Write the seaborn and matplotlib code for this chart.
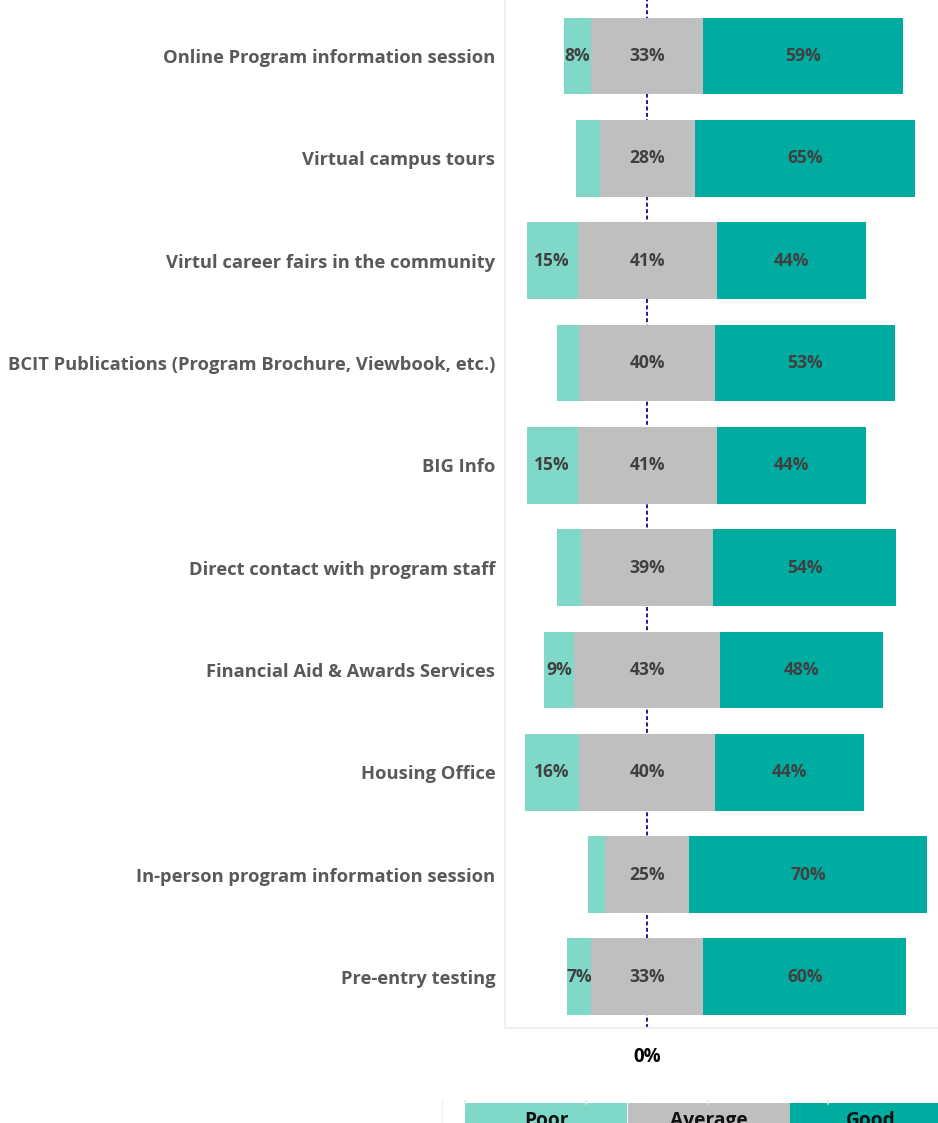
import matplotlib
matplotlib.use("Agg")
import matplotlib.pyplot as plt
from matplotlib.patches import Rectangle
import seaborn as sns

# Survey ratings per recruitment resource (percent of respondents)
resources = [
    "Online Program information session",
    "Virtual campus tours",
    "Virtul career fairs in the community",
    "BCIT Publications (Program Brochure, Viewbook, etc.)",
    "BIG Info",
    "Direct contact with program staff",
    "Financial Aid & Awards Services",
    "Housing Office",
    "In-person program information session",
    "Pre-entry testing",
]
poor = [8, 7, 15, 6.5, 15, 7, 9, 16, 5, 7]
average = [33, 28, 41, 40, 41, 39, 43, 40, 25, 33]
good = [59, 65, 44, 53, 44, 54, 48, 44, 70, 60]
# Small "poor" segments are left unlabelled
poor_labels = ["8%", "", "15%", "", "15%", "", "9%", "16%", "", "7%"]
ratings = ["Poor", "Average", "Good"]

c_poor = "#80D8C9"
c_avg = "#BEBFBE"
c_good = "#00ABA0"
c_ylab = "#595959"
c_val = "#404040"
c_frame = "#EFEFEF"

sns.set_theme(style="white")
plt.rcParams["font.family"] = ["Open Sans", "DejaVu Sans"]

W, H = 938, 1123
fig = plt.figure(figsize=(W / 100, H / 100), dpi=100)
ax = fig.add_axes([505 / W, (H - 1028) / H, (W - 505) / W, 1028 / H])

half = [a / 2 for a in average]
right_end = [h + g for h, g in zip(half, good)]
left_end = [-(h + p) for h, p in zip(half, poor)]
neg_half = [-h for h in half]

# Diverging stack: outer segments first, the centred "average" band on top
bar_kw = dict(orient="h", width=0.75, saturation=1, ax=ax, linewidth=0)
sns.barplot(x=right_end, y=resources, color=c_good, **bar_kw)
sns.barplot(x=left_end, y=resources, color=c_poor, **bar_kw)
sns.barplot(x=half, y=resources, color=c_avg, **bar_kw)
sns.barplot(x=neg_half, y=resources, color=c_avg, **bar_kw)

ax.axvline(0, color="#1A1AA0", lw=1.4, ls=(0, (2, 1.3)), zorder=0.5)

lab_kw = dict(ha="center", va="center", color=c_val, fontsize=12.6,
              fontweight="bold", zorder=5)
for i in range(len(resources)):
    if poor_labels[i]:
        ax.text(-half[i] - poor[i] / 2, i, poor_labels[i], **lab_kw)
    ax.text(0, i, f"{average[i]:g}%", **lab_kw)
    ax.text(half[i] + good[i] / 2, i, f"{good[i]:g}%", **lab_kw)

ax.set_xlim(-41.9, 85.8)
ax.set_ylim(9.50, -0.547)
ax.set_xticks([0])
ax.set_xticklabels(["0%"], fontsize=13.5, fontweight="bold", color="#000000")
ax.tick_params(axis="x", length=10, width=1.2, color=c_frame, pad=4)
ax.tick_params(axis="y", length=0, pad=7)
for t in ax.get_yticklabels():
    t.set_fontsize(13.2)
    t.set_fontweight("bold")
    t.set_color(c_ylab)
ax.set_xlabel("")
ax.set_ylabel("")
for side in ["top", "right"]:
    ax.spines[side].set_visible(False)
for side in ["left", "bottom"]:
    ax.spines[side].set_color(c_frame)
    ax.spines[side].set_linewidth(1.5)

# Legend strip along the bottom edge
lg = fig.add_axes([442 / W, -17 / H, (1000 - 442) / W, 40 / H])
lg.set_xlim(442, 1000)
lg.set_ylim(1140, 1100)
lg.axis("off")
lg.plot([442, 442], [1100, 1140], color=c_frame, lw=1.5)
for gx in [465, 586, 708, 828]:
    lg.plot([gx, gx], [1100, 1104], color="#E6E6E6", lw=1.2)
box_x = [465, 628, 790]
box_w = 162
for x0, name, col in zip(box_x, ratings, [c_poor, c_avg, c_good]):
    lg.add_patch(Rectangle((x0, 1103), box_w, 40, facecolor=col, edgecolor="none"))
    lg.text(x0 + box_w / 2, 1126, name, ha="center", va="baseline",
            fontsize=13.8, fontweight="bold", color="#111111")

fig.savefig("out.png", dpi=100)
